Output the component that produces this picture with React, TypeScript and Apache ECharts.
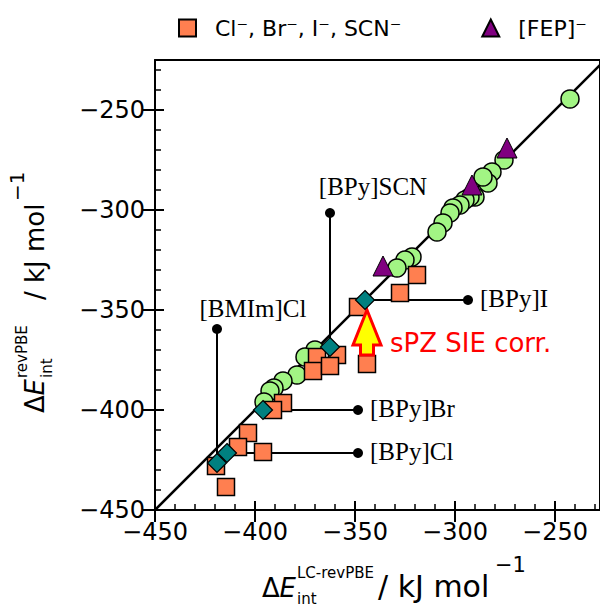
import React, { useEffect, useRef } from "react";
import * as echarts from "echarts";

// ---- data (kJ/mol) ----
const ilPoints: number[][] = [
  [-242.5, -244.5], [-275.5, -275], [-281.5, -281], [-283.5, -286.5], [-286, -283.5],
  [-290, -293.5], [-292.5, -293.5], [-295, -295], [-297.5, -297.5], [-301, -299],
  [-302.5, -301.5], [-306, -306.5], [-309, -311], [-321.5, -323.5], [-325, -325],
  [-329, -329], [-370, -370], [-375, -373.5], [-379, -382.5], [-386, -385.5],
  [-390.5, -389], [-392.5, -390.5], [-395.5, -396],
];
const anionPoints: number[][] = [
  [-319, -332.5], [-327.5, -341.5], [-348.5, -348.5], [-344, -377], [-359, -372.5],
  [-369, -373.5], [-371, -380.5], [-362.5, -378], [-386, -396.5], [-391, -400],
  [-403.5, -411.5], [-408.5, -418.5], [-396, -421], [-419.5, -428], [-414.5, -438.5],
];
const fepPoints: number[][] = [[-336, -328], [-291.5, -287.5], [-274, -269]];
const correctedPoints: number[][] = [
  [-345, -345], [-362.5, -368.5], [-396, -400], [-414, -421.5], [-419, -426.5],
];
const annotNames = ["[BPy]SCN", "[BMIm]Cl", "[BPy]I", "[BPy]Br", "[BPy]Cl"];
const annotFrom: number[][] = [[-362.5, -368.5], [-419, -426.5], [-345, -345], [-396, -400], [-414, -421.5]];
const annotTo: number[][] = [[-362.5, -301.5], [-419, -359.5], [-293.5, -345], [-348.5, -400], [-348.5, -421.5]];
const diagonal: number[][] = [[-450, -450], [-225, -225]];
const arrowData: number[][] = [[-344, -372.5, -350]]; // x, base y, tip y
const legendNames = ["Cl\u207B, Br\u207B, I\u207B, SCN\u207B", "[FEP]\u207B"];
const xRange = [-450, -227.5];
const yRange = [-450, -225];

// label placement (style, not data)
const annotLabelStyle: any[] = [
  { position: "inside", offset: [43, -27] },
  { position: "inside", offset: [36, -21] },
  { position: "right", distance: 7, offset: [0, -2] },
  { position: "right", distance: 7, offset: [0, -2] },
  { position: "right", distance: 7, offset: [0, -2] },
];

const fmt = (v: number) => (v < 0 ? "\u2212" + Math.abs(v) : String(v));
const SANS = "DejaVu Sans";
const SERIF = "Liberation Serif";

function axisSet(dim: "x" | "y", range: number[]) {
  const pos = dim === "x" ? "bottom" : "left";
  return [
    {
      type: "value", position: pos, min: range[0], max: range[1], interval: 50,
      axisLine: { show: true, lineStyle: { color: "#000", width: 2 } },
      axisTick: { show: true, inside: false, length: 12, lineStyle: { color: "#000", width: 2 } },
      axisLabel: { show: true, formatter: fmt, color: "#000", fontFamily: SANS, fontSize: 24, margin: 10, showMaxLabel: false },
      splitLine: { show: false },
    },
    {
      type: "value", position: pos, min: range[0], max: range[1], interval: 50,
      axisLine: { show: false },
      axisTick: { show: true, inside: true, length: 9, lineStyle: { color: "#000", width: 2 } },
      axisLabel: { show: false }, splitLine: { show: false },
    },
    {
      type: "value", position: pos, min: range[0], max: range[1], interval: 10,
      axisLine: { show: false },
      axisTick: { show: true, inside: true, length: 6, lineStyle: { color: "#000", width: 1.5 } },
      axisLabel: { show: false }, splitLine: { show: false },
    },
    {
      type: "value", position: dim === "x" ? "top" : "right", min: range[0], max: range[1],
      axisLine: { show: true, lineStyle: { color: "#000", width: 2 } },
      axisTick: { show: false }, axisLabel: { show: false }, splitLine: { show: false },
    },
  ];
}

// one text piece; x along reading direction, base = baseline offset
const piece = (text: string, x: number, base: number, size: number, italic = false) => ({
  type: "text", x, y: base - 0.35 * size,
  style: { text, fontFamily: SANS, fontSize: size, fontStyle: italic ? "italic" : "normal", fill: "#000", verticalAlign: "middle", align: "left" },
});

const xName = [
  piece("\u0394", 0, 0, 26),
  piece("E", 17.5, 0, 26, true),
  piece("LC-revPBE", 35, -19, 15),
  piece("int", 35, 7, 15),
  piece("/ kJ mol", 116, 0, 30),
  piece("\u22121", 233, -25, 21),
];
const yName = [
  piece("\u0394", 0, 0, 26),
  piece("E", 17.5, 0, 26, true),
  piece("revPBE", 35, -17, 15),
  piece("int", 35, 8, 15),
  piece("/ kJ mol", 113, 0, 26),
  piece("\u22121", 212, -20, 20),
];

export default function App() {
  const ref = useRef<HTMLDivElement>(null);
  useEffect(() => {
    if (!ref.current) return;
    const chart = echarts.init(ref.current, null, { renderer: "svg" });
    const series: any[] = [
      {
        type: "line", data: diagonal, symbol: "none", silent: true, z: 1,
        lineStyle: { color: "#000", width: 2.5 },
      },
      ...annotFrom.map((f, i) => ({
        type: "line", data: [f, annotTo[i]], symbol: "none", silent: true, z: 2,
        lineStyle: { color: "#000", width: 2 },
      })),
      {
        type: "scatter", name: "IL", data: ilPoints, symbol: "circle", symbolSize: 18, z: 3,
        itemStyle: { color: "#a2f584", borderColor: "#000", borderWidth: 1.5, opacity: 1 },
      },
      {
        type: "scatter", name: legendNames[0], data: anionPoints, symbol: "rect", symbolSize: 17, z: 4,
        itemStyle: { color: "#ff7f50", borderColor: "#000", borderWidth: 1.5, opacity: 1 },
      },
      {
        type: "scatter", name: legendNames[1], data: fepPoints, symbol: "triangle", symbolSize: 20, z: 5,
        itemStyle: { color: "#800080", borderColor: "#000", borderWidth: 1, opacity: 1 },
      },
      {
        type: "custom", data: arrowData, z: 6, silent: true,
        renderItem: (params: any, api: any) => {
          const base = api.coord([api.value(0), api.value(1)]);
          const tip = api.coord([api.value(0), api.value(2)]);
          const tx = tip[0], ty = tip[1], by = base[1];
          const hh = 35, hw = 14, sw = 6.5;
          return {
            type: "polygon",
            shape: {
              points: [
                [tx, ty], [tx + hw, ty + hh], [tx + sw, ty + hh], [tx + sw, by],
                [tx - sw, by], [tx - sw, ty + hh], [tx - hw, ty + hh],
              ],
            },
            style: { fill: "#ffff00", stroke: "#ff0000", lineWidth: 3, lineJoin: "miter" },
          };
        },
      },
      {
        type: "scatter", name: "corrected", data: correctedPoints, symbol: "diamond", symbolSize: 19, z: 7,
        itemStyle: { color: "#008080", borderColor: "#000", borderWidth: 1.2, opacity: 1 },
      },
      {
        type: "scatter", name: "annot", z: 7, symbol: "circle", symbolSize: 10,
        itemStyle: { color: "#000", opacity: 1 },
        data: annotTo.map((p, i) => ({
          value: p,
          label: {
            show: true, formatter: annotNames[i], color: "#000", fontFamily: SERIF, fontSize: 25,
            ...annotLabelStyle[i],
          },
        })),
      },
    ];
    chart.setOption({
      animation: false,
      grid: { left: 155, top: 60, right: 0, bottom: 98, containLabel: false },
      xAxis: axisSet("x", xRange),
      yAxis: axisSet("y", yRange),
      legend: {
        data: legendNames, top: 12, left: 173, itemWidth: 17, itemHeight: 17, itemGap: 80,
        formatter: (n: string) => "  " + n,
        textStyle: { color: "#000", fontFamily: SANS, fontSize: 22 },
      },
      series,
      graphic: [
        {
          type: "text", x: 390, y: 343,
          style: { text: "sPZ SIE corr.", fontFamily: SANS, fontSize: 26, fill: "#ff0000", verticalAlign: "middle", align: "left" },
        },
        { type: "group", x: 262, y: 597, children: xName },
        { type: "group", x: 44, y: 413, rotation: Math.PI / 2, children: yName },
      ],
    });
    return () => chart.dispose();
  }, []);
  return <div ref={ref} style={{ position: "absolute", left: 0, top: 0, width: 600, height: 608 }} />;
}
